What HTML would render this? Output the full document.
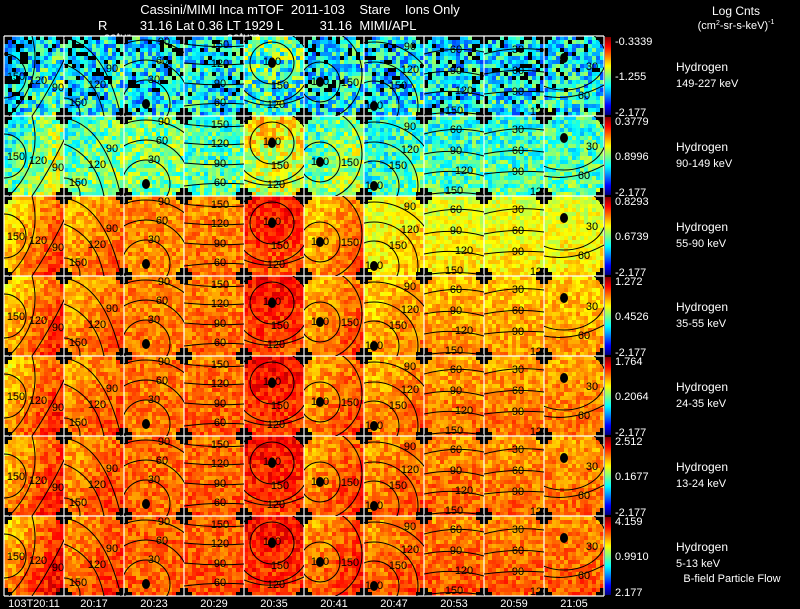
<!DOCTYPE html>
<html><head><meta charset="utf-8">
<style>
html,body{margin:0;padding:0;background:#000;width:800px;height:609px;overflow:hidden}
svg{display:block;font-family:"Liberation Sans",sans-serif}
text{white-space:pre}
</style></head>
<body>
<svg id="chart" width="800" height="609" viewBox="0 0 800 609" xmlns="http://www.w3.org/2000/svg">
<rect width="800" height="609" fill="#000"/>
<text x="300" y="14" fill="#fff" font-size="13" text-anchor="middle">Cassini/MIMI Inca mTOF  2011-103    Stare    Ions Only</text>
<text x="98" y="30" fill="#fff" font-size="13">R         31.16 Lat 0.36 LT 1929 L          31.16  MIMI/APL</text>
<text x="104" y="41" fill="#fff" font-size="12">satur</text>
<text x="227" y="41" fill="#fff" font-size="12">saturn</text>
<text x="736" y="15" fill="#fff" font-size="12" text-anchor="middle">Log Cnts</text>
<text x="736" y="29" fill="#fff" font-size="11" text-anchor="middle">(cm<tspan font-size="7" dy="-4">2</tspan><tspan dy="4">-sr-s-keV)</tspan><tspan font-size="7" dy="-5">-1</tspan></text>
<text x="732" y="582" fill="#fff" font-size="11" text-anchor="middle">B-field Particle Flow</text>
<defs>
<linearGradient id="jet" x1="0" y1="1" x2="0" y2="0">
<stop offset="0" stop-color="#00007f"/><stop offset="0.12" stop-color="#0000ff"/><stop offset="0.37" stop-color="#00ffff"/><stop offset="0.5" stop-color="#80ff80"/><stop offset="0.63" stop-color="#ffff00"/><stop offset="0.88" stop-color="#ff0000"/><stop offset="1" stop-color="#7f0000"/>
</linearGradient>
<clipPath id="panelclip"><rect x="0" y="0" width="60" height="80"/></clipPath>
</defs>
<g id="panels"></g>
<g id="contours"></g>
<g id="side"></g>
<g id="xlabels"></g>
</svg>
<script>
// ---- data ----
const times = ["103T20:11","20:17","20:23","20:29","20:35","20:41","20:47","20:53","20:59","21:05"];
const species = ["Hydrogen","Hydrogen","Hydrogen","Hydrogen","Hydrogen","Hydrogen","Hydrogen"];
const energies = ["149-227 keV","90-149 keV","55-90 keV","35-55 keV","24-35 keV","13-24 keV","5-13 keV"];
const cbTop = ["-0.3339","0.3779","0.8293","1.272","1.764","2.512","4.159"];
const cbMid = ["-1.255","0.8996","0.6739","0.4526","0.2064","0.1677","0.9910"];
const cbBot = ["-2.177","-2.177","-2.177","-2.177","-2.177","-2.177","2.177"];
const level0 = [.35,.35,.35,.35,.42,.35,.35,.34,.34,.35];
const level1 = [.50,.48,.50,.46,.60,.50,.44,.44,.44,.45];
const level2 = [.74,.74,.74,.75,.82,.73,.64,.62,.62,.62];
const level3 = [.75,.75,.75,.76,.83,.75,.71,.71,.70,.70];
const level4 = [.76,.76,.76,.77,.84,.76,.74,.74,.74,.74];
const level5 = [.77,.77,.77,.78,.84,.77,.76,.76,.75,.75];
const level6 = [.78,.78,.78,.79,.84,.78,.77,.77,.77,.77];
const levels = [level0,level1,level2,level3,level4,level5,level6];
const gradX = [.08,.04,0,0,0,.05,.03,0,0,0];
const gradY = [.05,.03,0,.02,-.04,.03,.03,.03,.03,.03];

// ---- layout ----
const X0=4, Y0=36, PW=60, PH=80, CELL=4, NC=15, NR=20;
const xPanel = c => X0 + c*PW;
const yPanel = r => Y0 + r*PH;
function jet(t){t=Math.max(0,Math.min(1,t));
 const f=v=>Math.round(255*Math.max(0,Math.min(1,v)));
 return `rgb(${f(1.5-Math.abs(4*t-3))},${f(1.5-Math.abs(4*t-2))},${f(1.5-Math.abs(4*t-1))})`;}
function tex(r,c,i,j){let h=(r*7919+c*104729+i*31337+j*9973)>>>0;h^=h<<13;h^=h>>>17;h^=h<<5;return ((h>>>0)%1000)/1000-0.5;}
const NS="http://www.w3.org/2000/svg";
const panels=document.getElementById('panels');
for(let r=0;r<levels.length;r++){
 for(let c=0;c<times.length;c++){
  const g=document.createElementNS(NS,'g');
  
  
  const px=xPanel(c), py=yPanel(r);
  let cells='';
  const noiseAmp = r===0?0.4:(r===1?0.26:0.14);
  for(let j=0;j<NR;j++)for(let i=0;i<NC;i++){
   const corner=((i<2||i>12)&&(j<1||j>18))||((i<1||i>13)&&(j<2||j>17));
   let v=levels[r][c]+gradX[c]*((i-7)/7)+gradY[c]*((j-10)/10)+noiseAmp*tex(r,c,i,j);
   let col = corner?'#000':(r===0&&v<0.19?'#000':jet(v));
   cells+=`<rect x="${px+i*CELL}" y="${py+j*CELL}" width="${CELL}" height="${CELL}" fill="${col}"/>`;
  }
  g.innerHTML=cells;
  panels.appendChild(g);
 }
}
for(let c=0;c<=times.length;c++){
 const l=document.createElementNS(NS,'line');
 l.setAttribute('x1',xPanel(c));l.setAttribute('x2',xPanel(c));
 l.setAttribute('y1',Y0);l.setAttribute('y2',yPanel(levels.length));
 l.setAttribute('stroke','#fff');l.setAttribute('stroke-width','1.2');
 
 
 panels.appendChild(l);
}
for(let r=0;r<=levels.length;r++){
 const l=document.createElementNS(NS,'line');
 l.setAttribute('x1',X0);l.setAttribute('x2',xPanel(times.length));
 l.setAttribute('y1',yPanel(r));l.setAttribute('y2',yPanel(r));
 l.setAttribute('stroke','#fff');l.setAttribute('stroke-width','1.2');
 
 
 panels.appendChild(l);
}
const circ=(cx,cy,rr)=>`M${cx-rr},${cy} a${rr},${rr} 0 1 0 ${2*rr},0 a${rr},${rr} 0 1 0 ${-2*rr},0`;
const ell=(cx,cy,rx,ry)=>`M${cx-rx},${cy} a${rx},${ry} 0 1 0 ${2*rx},0 a${rx},${ry} 0 1 0 ${-2*rx},0`;
const shapes=[
 {p:[circ(0,40,22),"M28,0 Q40,45 5,80","M62,20 Q45,55 28,80"],l:[["150",12,44],["120",34,48],["90",54,55]],d:null},
 {p:["M0,2 Q40,8 57,80","M0,28 Q32,40 40,80",circ(0,78,16)],l:[["90",48,36],["120",33,52],["150",14,70]],d:null},
 {p:[circ(22,68,24),circ(22,68,44),circ(22,68,64)],l:[["0",22,72],["30",30,47],["60",38,28],["90",40,9]],d:[22,68]},
 {p:["M0,8 Q30,12 60,10","M0,27 Q30,30 60,28","M0,47 Q30,50 60,48","M0,70 Q30,66 60,68"],l:[["150",36,12],["120",36,31],["90",36,51],["60",36,70]],d:null},
 {p:[ell(28,27,22,21),ell(28,30,38,36),"M0,64 Q30,76 62,60"],l:[["180",28,29],["150",36,53],["120",32,72]],d:[28,27]},
 {p:[circ(16,46,20),ell(14,38,44,46)],l:[["180",16,49],["150",46,50]],d:[16,46]},
 {p:[circ(10,70,25),circ(10,70,44),circ(10,70,64)],l:[["180",10,73],["150",34,53],["120",46,37],["90",46,14]],d:[10,70]},
 {p:["M0,18 Q30,10 60,16","M0,38 Q30,32 60,40","M0,58 Q30,52 60,60","M0,79 Q30,74 60,79"],l:[["60",32,17],["90",32,38],["120",40,58],["150",30,78]],d:null},
 {p:["M0,18 Q30,10 60,14","M0,38 Q30,32 60,36","M0,58 Q30,54 60,56"],l:[["30",34,17],["60",34,38],["90",34,59],["120",55,79]],d:null},
 {p:[ell(20,22,42,32),"M0,60 Q30,66 62,48"],l:[["0",20,26],["30",48,34],["60",40,63]],d:[20,22]}
];
const cg=document.getElementById('contours');
let defs='';
for(let r=0;r<levels.length;r++)for(let c=0;c<times.length;c++){
 const px=xPanel(c), py=yPanel(r), s=shapes[c];
 let h=`<g transform="translate(${px},${py})"><g clip-path="url(#panelclip)">`;
 s.p.forEach(d=>h+=`<path d="${d}" fill="none" stroke="#000" stroke-width="1"/>`);
 if(s.d) h+=`<ellipse cx="${s.d[0]}" cy="${s.d[1]}" rx="4" ry="5" fill="#000"/>`;
 s.l.forEach(t=>h+=`<text x="${t[1]}" y="${t[2]}" font-size="11" text-anchor="middle" fill="#000">${t[0]}</text>`);
 h+='</g></g>';
 defs+=h;
}
cg.innerHTML=defs;
const side=document.getElementById('side');
let sh='';
for(let r=0;r<levels.length;r++){
 const py=yPanel(r);
 sh+=`<rect x="605" y="${py+1}" width="6" height="${PH-2}" fill="url(#jet)"/>`;
 sh+=`<text x="615" y="${py+9}" font-size="11" fill="#fff">${cbTop[r]}</text>`;
 sh+=`<text x="615" y="${py+44}" font-size="11" fill="#fff">${cbMid[r]}</text>`;
 sh+=`<text x="615" y="${py+80}" font-size="11" fill="#fff">${cbBot[r]}</text>`;
 sh+=`<text x="676" y="${py+35}" font-size="12" fill="#fff">${species[r]}</text>`;
 sh+=`<text x="676" y="${py+51}" font-size="11" fill="#fff">${energies[r]}</text>`;
}
side.innerHTML=sh;
const xl=document.getElementById('xlabels');
let xh='';
times.forEach((t,c)=>{xh+=`<text x="${xPanel(c)+PW/2}" y="607" font-size="11" fill="#fff" text-anchor="middle">${t}</text>`;});
xl.innerHTML=xh;
</script>
</body></html>
